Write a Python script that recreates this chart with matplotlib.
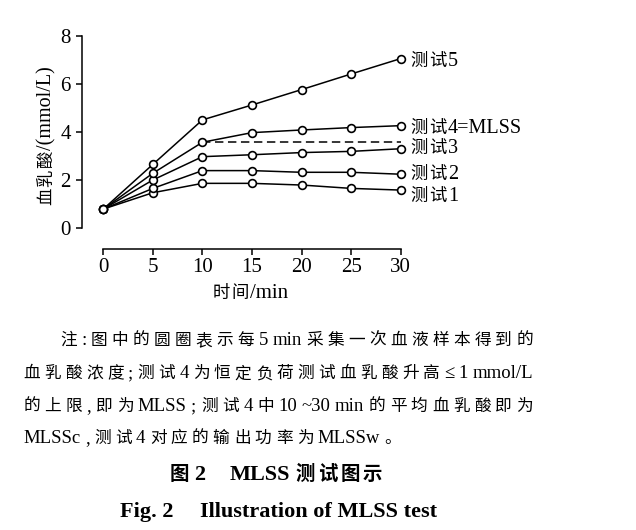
import matplotlib
matplotlib.use('Agg')
import matplotlib.pyplot as plt
from matplotlib.font_manager import FontProperties

# ---------------- data ----------------
time_min = [0, 5, 10, 15, 20, 25, 30]
test1 = [0.80, 1.48, 1.87, 1.87, 1.80, 1.66, 1.59]
test2 = [0.80, 1.66, 2.40, 2.40, 2.33, 2.33, 2.25]
test3 = [0.80, 2.01, 2.98, 3.06, 3.15, 3.20, 3.31]
test4 = [0.80, 2.29, 3.58, 3.98, 4.09, 4.19, 4.27]
test5 = [0.80, 2.66, 4.51, 5.13, 5.77, 6.42, 7.06]
series_names = ['测试1', '测试2', '测试3', '测试4=MLSS', '测试5']
mlss_ref_time = [10, 30]
mlss_ref_level = [3.58, 3.58]
x_ticks = [0, 5, 10, 15, 20, 25, 30]
y_ticks = [0, 2, 4, 6, 8]
x_label = '时间/min'
y_label = '血乳酸/(mmol/L)'
note_lines = [
    '注:图中的圆圈表示每 5 min 采集一次血液样本得到的',
    '血乳酸浓度;测试 4 为恒定负荷测试血乳酸升高≤ 1 mmol/L',
    '的上限,即为 MLSS;测试 4 中 10 ~30 min 的平均血乳酸即为',
    'MLSSc,测试 4 对应的输出功率为 MLSSw。',
]
title_cn = ['图', '2', 'MLSS', '测试图示']
title_en = ['Fig. 2', 'Illustration of MLSS test']

# ---------------- styles ----------------
W, H = 636, 530
plt.rcParams['font.family'] = ['Liberation Serif', 'Noto Sans CJK SC', 'DejaVu Sans']
LAT = 'Liberation Serif'
CJK = 'Noto Sans CJK SC'

fig = plt.figure(figsize=(W / 100, H / 100), dpi=100)
fig.patch.set_facecolor('white')

# axes: x 0..30 -> px 103.3..400.7 ; y 0..8 -> px 228.3..36 (from top)
x0, x1 = 103.3, 400.7
ytop, ybot = 36.0, 228.3
ax = fig.add_axes([x0 / W, 1 - ybot / H, (x1 - x0) / W, (ybot - ytop) / H])
ax.set_xlim(0, 30)
ax.set_ylim(0, 8)
ax.set_facecolor('none')
for s in ['top', 'right']:
    ax.spines[s].set_visible(False)
ax.spines['left'].set_position(('outward', 15.5))
ax.spines['bottom'].set_position(('outward', 14.7))
ax.spines['left'].set_bounds(0, 8)
ax.spines['bottom'].set_bounds(0, 30)
for s in ['left', 'bottom']:
    ax.spines[s].set_linewidth(1.1)
ax.set_xticks(x_ticks)
ax.set_yticks(y_ticks)
ax.tick_params(axis='both', direction='out', length=4, width=1.1, labelsize=15)
ax.tick_params(axis='x', pad=3.0)
ax.tick_params(axis='y', pad=4.0)
for lab in ax.get_xticklabels() + ax.get_yticklabels():
    lab.set_fontfamily(LAT)

series = [test1, test2, test3, test4, test5]
for vals in series:
    ax.plot(time_min, vals, color='black', lw=1.1, marker='o', ms=5.6,
            mfc='white', mec='black', mew=1.2, clip_on=False, zorder=3)
ax.plot(mlss_ref_time, mlss_ref_level, color='black', lw=1.1,
        dashes=(5.5, 3), zorder=2)

renderer = fig.canvas.get_renderer()


def is_cjk(ch):
    return ord(ch) >= 0x2E80 or ch in '。'


def make_text(x, y, s, fp, rotation=0):
    t = fig.text(x / W, 1 - y / H, s, fontproperties=fp, ha='left',
                 va='baseline', rotation=rotation, rotation_mode='anchor',
                 color='black')
    bb = t.get_window_extent(renderer=renderer)
    return t, (bb.width if rotation == 0 else bb.height)


def runs(text):
    """split into runs of CJK / non-CJK characters"""
    out = []
    for ch in text:
        c = is_cjk(ch)
        if out and out[-1][1] == c:
            out[-1][0] += ch
        else:
            out.append([ch, c])
    return out


def draw_mixed(x, y, text, cjk_size, lat_size, cjk_track=0.0, rotation=0,
               weight='normal'):
    """draw mixed text along baseline; returns total length"""
    pos = 0.0
    for s, c in runs(text):
        if c:
            fp = FontProperties(family=CJK, size=cjk_size, weight=weight)
            for ch in s:
                if rotation == 0:
                    t, w = make_text(x + pos, y, ch, fp)
                else:
                    t, w = make_text(x, y - pos, ch, fp, rotation=90)
                pos += w + cjk_track
        else:
            fp = FontProperties(family=LAT, size=lat_size, weight=weight)
            if rotation == 0:
                t, w = make_text(x + pos, y, s, fp)
            else:
                t, w = make_text(x, y - pos, s, fp, rotation=90)
            pos += w + cjk_track
    return pos


# series labels
label_dy = [11.0, 5.0, 4.6, 7.0, 7.3]   # baseline offset below last point (px)
for vals, name, dy in zip(series, series_names, label_dy):
    px = ax.transData.transform((time_min[-1], vals[-1]))
    xpix = px[0] + 9.5
    ypix = H - px[1] + dy
    draw_mixed(xpix, ypix, name, cjk_size=12.5, lat_size=14.5, cjk_track=1.5)

# axis labels
draw_mixed(213, 298, x_label, cjk_size=12.5, lat_size=15, cjk_track=1.0)
draw_mixed(51.5, 205, y_label, cjk_size=12.5, lat_size=14.5, cjk_track=1.0,
           rotation=90)


# ---------------- caption (justified) ----------------
def tokenize(line):
    toks = []
    cur = ''
    for ch in line:
        if is_cjk(ch):
            if cur:
                toks.append((cur, False))
                cur = ''
            toks.append((ch, True))
        elif ch == ' ':
            if cur:
                toks.append((cur, False))
                cur = ''
        elif ch in ':;,':
            if cur:
                toks.append((cur, False))
                cur = ''
            toks.append((ch, False))
        else:
            cur += ch
    if cur:
        toks.append((cur, False))
    return toks


cap_cjk = FontProperties(family=CJK, size=12)
cap_lat = FontProperties(family=[LAT, 'DejaVu Serif'], size=13.5)
line_start = [60, 23.3, 23.3, 23.3]
line_base = [345, 378.3, 411, 443.3]
line_end = 533.0
gaps_used = []
for i, line in enumerate(note_lines):
    toks = tokenize(line)
    items = []
    for s, c in toks:
        t, w = make_text(0, line_base[i], s, cap_cjk if c else cap_lat)
        items.append((t, w))
    total = sum(w for _, w in items)
    if i < len(note_lines) - 1:
        gap = (line_end - line_start[i] - total) / (len(items) - 1)
        gaps_used.append(gap)
    else:
        gap = sum(gaps_used) / len(gaps_used)
    pos = line_start[i]
    for t, w in items:
        t.set_position((pos / W, 1 - line_base[i] / H))
        pos += w + gap

# titles
fpb_cjk = FontProperties(family=CJK, size=14, weight='bold')
fpb_lat = FontProperties(family=LAT, size=16, weight='bold')
pos = 170.0
t, w = make_text(pos, 480, title_cn[0], fpb_cjk); pos += w + 5
t, w = make_text(pos, 480, title_cn[1], fpb_lat); pos += w + 24
t, w = make_text(pos, 480, title_cn[2], fpb_lat); pos += w + 5
for ch in title_cn[3]:
    t, w = make_text(pos, 480, ch, fpb_cjk); pos += w + 3

pos = 120.0
t, w = make_text(pos, 516.7, title_en[0], fpb_lat); pos += w + 26
t, w = make_text(pos, 516.7, title_en[1], fpb_lat)

fig.savefig('out.png', dpi=100)
